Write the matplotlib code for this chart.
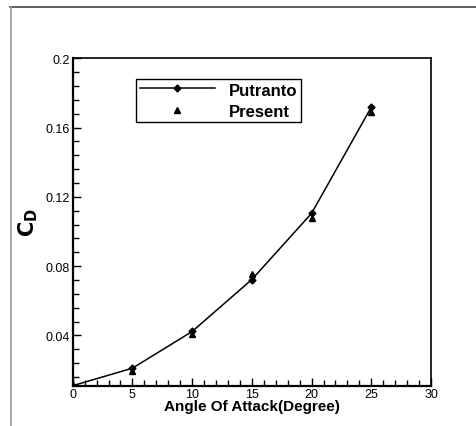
import matplotlib.pyplot as plt
from matplotlib.lines import Line2D
from matplotlib.ticker import MultipleLocator

plt.rcParams['font.family'] = ['Liberation Sans', 'DejaVu Sans']

# Drag coefficient vs angle of attack
aoa = [0, 5, 10, 15, 20, 25]
cd_putranto = [0.011, 0.0211, 0.0423, 0.0723, 0.1105, 0.1718]
cd_present = [0.011, 0.0194, 0.0406, 0.0752, 0.1078, 0.1690]

fig = plt.figure(figsize=(4.77, 4.27), dpi=100)
ax = fig.add_axes([0.1524, 0.0944, 0.7512, 0.7667])

ax.plot(aoa, cd_putranto, color='black', linewidth=1.1, marker='D',
        markersize=3.5, label='Putranto')
ax.plot(aoa, cd_present, color='black', linestyle='none', marker='^',
        markersize=4, label='Present')

ax.set_xlim(0, 30)
ax.set_ylim(0.011, 0.2)
ax.xaxis.set_major_locator(MultipleLocator(5))
ax.xaxis.set_minor_locator(MultipleLocator(1))
ax.set_yticks([0.04, 0.08, 0.12, 0.16, 0.2])
ax.set_yticklabels(['0.04', '0.08', '0.12', '0.16', '0.2'])
ax.yaxis.set_minor_locator(MultipleLocator(0.008))

ax.tick_params(axis='both', which='both', direction='in', top=False, right=False,
               labelsize=9, width=1, pad=2)
ax.tick_params(axis='both', which='major', length=6)
ax.tick_params(axis='both', which='minor', length=4)
for side in ['left', 'bottom']:
    ax.spines[side].set_linewidth(1.6)
for side in ['top', 'right']:
    ax.spines[side].set_linewidth(1.2)

ax.set_xlabel('Angle Of Attack(Degree)', fontsize=11, fontweight='bold', labelpad=-1)
ax.set_ylabel('$\\mathbf{C_D}$', fontsize=15, labelpad=4)

leg = ax.legend(loc='upper left', bbox_to_anchor=(0.178, 0.938),
                prop={'weight': 'bold', 'size': 12}, frameon=True, fancybox=False,
                edgecolor='black', framealpha=1, handlelength=4.5,
                borderpad=0.2, labelspacing=0.35, handletextpad=0.85,
                borderaxespad=0, handleheight=0.9)
leg.get_frame().set_linewidth(1)

# outer frame lines of the original screenshot
fig.add_artist(Line2D([10 / 477, 1], [1 - 8 / 427, 1 - 8 / 427],
                      transform=fig.transFigure, color='#444444', linewidth=1.2))
fig.add_artist(Line2D([11 / 477, 11 / 477], [0, 1 - 8 / 427],
                      transform=fig.transFigure, color='#999999', linewidth=1.2))

fig.savefig('out.png', dpi=100)
